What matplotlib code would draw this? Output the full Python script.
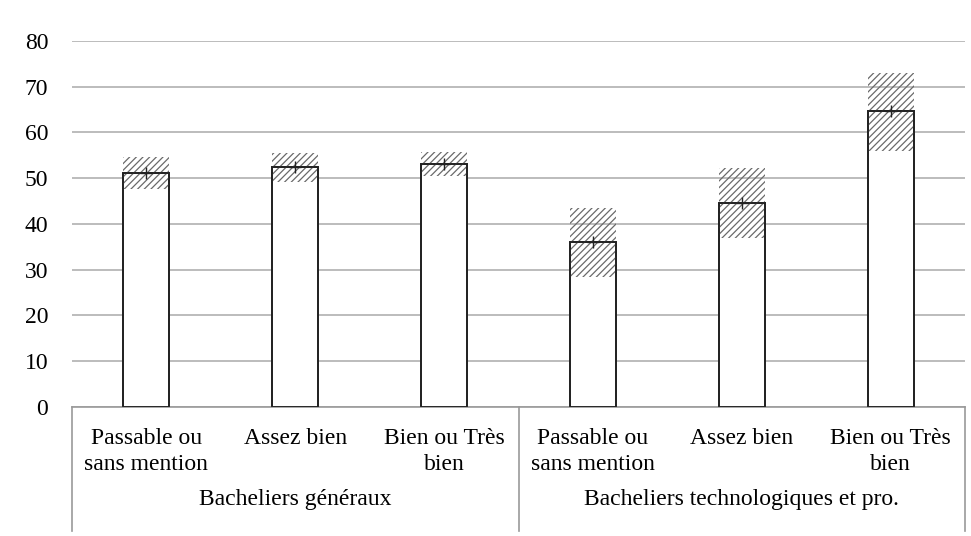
import matplotlib.pyplot as plt
import matplotlib.transforms as mtransforms

plt.rcParams['font.family'] = ['Liberation Serif', 'DejaVu Serif']

mentions = ['Passable ou\nsans mention', 'Assez bien', 'Bien ou Très\nbien',
            'Passable ou\nsans mention', 'Assez bien', 'Bien ou Très\nbien']
groups = ['Bacheliers généraux', 'Bacheliers technologiques et pro.']
values = [51.2, 52.4, 53.2, 36.1, 44.6, 64.7]
ci_low = [47.6, 49.1, 50.4, 28.3, 37.0, 56.0]
ci_high = [54.7, 55.6, 55.7, 43.4, 52.3, 73.1]

fig = plt.figure(figsize=(9.71, 5.36), dpi=100)
ax = fig.add_axes([0.074, 0.241, 0.920, 0.6825])

x = list(range(len(values)))
w = 0.31

ax.grid(axis='y', color='#b0b0b0', linewidth=1.2, zorder=0)
ax.set_axisbelow(True)

plt.rcParams['hatch.color'] = '#6a6a6a'
plt.rcParams['hatch.linewidth'] = 0.9
ax.bar(x, values, width=w, color='white', edgecolor='#222222', linewidth=1.3, zorder=2)
ax.bar(x, [h - l for h, l in zip(ci_high, ci_low)], bottom=ci_low, width=w,
       facecolor='none', edgecolor='#6a6a6a', linewidth=0, hatch='/////', zorder=3)
ax.bar(x, values, width=w, facecolor='none', edgecolor='#222222', linewidth=1.3, zorder=4)
ax.plot(x, values, linestyle='none', marker='+', markersize=9, color='#222222',
        markeredgewidth=1.0, zorder=5)

ax.set_xlim(-0.5, len(values) - 0.5)
ax.set_ylim(0, 80)
ax.set_yticks(range(0, 81, 10))
ax.tick_params(axis='y', length=0, labelsize=17, pad=17)
ax.set_xticks([])
for s in ['top', 'right', 'left']:
    ax.spines[s].set_visible(False)
ax.spines['bottom'].set_color('#999999')
ax.spines['bottom'].set_linewidth(1.2)

trans = mtransforms.blended_transform_factory(ax.transData, ax.transAxes)
for xi, lab in zip(x, mentions):
    ax.text(xi, -0.057, lab, transform=trans, ha='center', va='top',
            fontsize=17, multialignment='center', linespacing=1.35)
for gi, g in enumerate(groups):
    ax.text(1 + 3 * gi, -0.225, g, transform=trans, ha='center', va='top', fontsize=17)
for xs in [-0.5, 2.5, 5.5]:
    ax.plot([xs, xs], [0, -0.34], transform=trans, color='#999999', linewidth=1.2,
            clip_on=False)

fig.savefig('out.png', dpi=100)
